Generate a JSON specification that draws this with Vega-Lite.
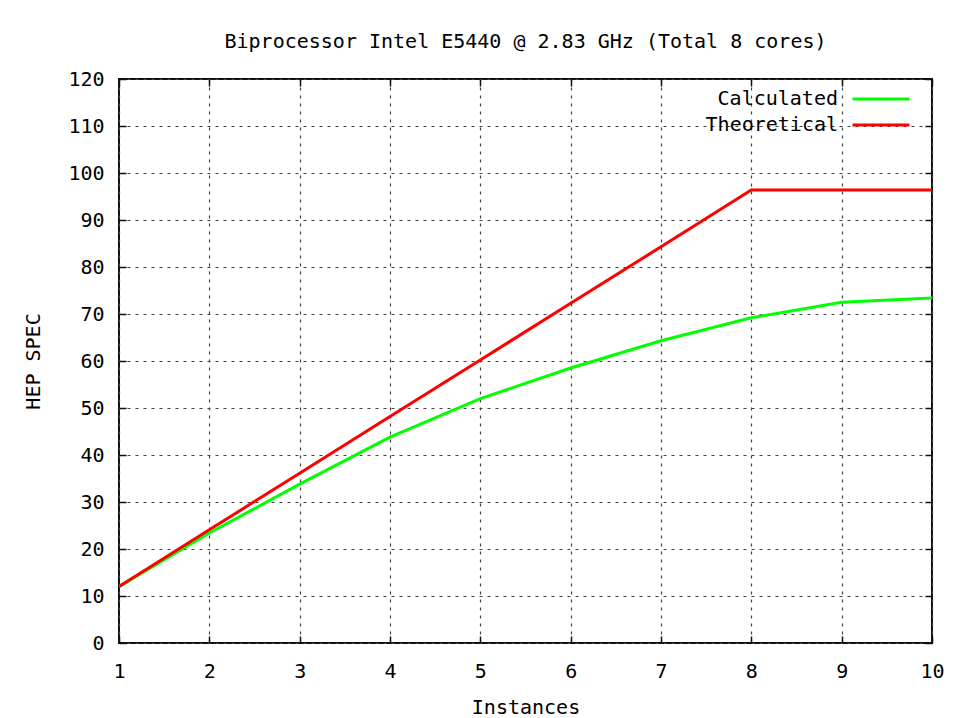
{
  "$schema": "https://vega.github.io/schema/vega-lite/v6.json",
  "width": 813,
  "height": 564,
  "autosize": {"type": "none"},
  "padding": {"left": 119, "top": 79, "right": 22, "bottom": 75},
  "background": "white",
  "title": {
    "text": "Biprocessor Intel E5440 @ 2.83 GHz (Total 8 cores)",
    "font": "DejaVu Sans Mono",
    "fontSize": 20,
    "fontWeight": "normal",
    "color": "#000",
    "anchor": "middle",
    "offset": 17
  },
  "config": {
    "view": {"stroke": "#111", "strokeWidth": 2},
    "axis": {
      "labelFont": "DejaVu Sans Mono",
      "labelFontSize": 20,
      "labelColor": "#000",
      "titleFont": "DejaVu Sans Mono",
      "titleFontSize": 20,
      "titleFontWeight": "normal",
      "titleColor": "#000",
      "domain": false,
      "tickColor": "#111",
      "tickWidth": 1.5,
      "tickSize": -7,
      "gridColor": "#444",
      "gridDash": [3, 5],
      "gridWidth": 1.2
    }
  },
  "data": {
    "values": [
      {"x": 1, "series": "Calculated", "y": 12},
      {"x": 2, "series": "Calculated", "y": 23.4},
      {"x": 3, "series": "Calculated", "y": 33.8},
      {"x": 4, "series": "Calculated", "y": 43.8},
      {"x": 5, "series": "Calculated", "y": 52},
      {"x": 6, "series": "Calculated", "y": 58.5},
      {"x": 7, "series": "Calculated", "y": 64.3},
      {"x": 8, "series": "Calculated", "y": 69.2},
      {"x": 9, "series": "Calculated", "y": 72.5},
      {"x": 10, "series": "Calculated", "y": 73.4},
      {"x": 1, "series": "Theoretical", "y": 12},
      {"x": 2, "series": "Theoretical", "y": 24.1},
      {"x": 3, "series": "Theoretical", "y": 36.1},
      {"x": 4, "series": "Theoretical", "y": 48.2},
      {"x": 5, "series": "Theoretical", "y": 60.2},
      {"x": 6, "series": "Theoretical", "y": 72.3},
      {"x": 7, "series": "Theoretical", "y": 84.3},
      {"x": 8, "series": "Theoretical", "y": 96.4},
      {"x": 9, "series": "Theoretical", "y": 96.4},
      {"x": 10, "series": "Theoretical", "y": 96.4}
    ]
  },
  "layer": [
    {
      "mark": {"type": "line", "strokeWidth": 3, "clip": true},
      "encoding": {
        "x": {
          "field": "x", "type": "quantitative",
          "scale": {"domain": [1, 10], "nice": false, "zero": false},
          "axis": {"orient": "bottom", "title": "Instances", "values": [1,2,3,4,5,6,7,8,9,10], "labelFlush": false, "labelPadding": 25, "titlePadding": 16}
        },
        "y": {
          "field": "y", "type": "quantitative",
          "scale": {"domain": [0, 120], "nice": false},
          "axis": {"orient": "left", "title": "HEP SPEC", "values": [0,10,20,30,40,50,60,70,80,90,100,110,120], "labelFlush": false, "labelPadding": 22, "titlePadding": 24}
        },
        "color": {
          "field": "series", "type": "nominal",
          "scale": {"domain": ["Calculated", "Theoretical"], "range": ["#00ff00", "#ff0000"]},
          "legend": {
            "title": null,
            "orient": "none",
            "legendX": 751,
            "legendY": 9,
            "padding": 0,
            "symbolType": "M-3,0H3",
            "symbolStrokeWidth": 3,
            "symbolSize": 361,
            "labelFont": "DejaVu Sans Mono",
            "labelFontSize": 20,
            "labelColor": "#000",
            "labelAlign": "right",
            "labelOffset": -54,
            "rowPadding": 5
          }
        }
      }
    },
    {
      "mark": {"type": "point", "opacity": 0},
      "encoding": {
        "x": {
          "field": "x", "type": "quantitative",
          "axis": {"orient": "top", "title": null, "labels": false, "grid": false, "values": [1,2,3,4,5,6,7,8,9,10]}
        },
        "y": {
          "field": "y", "type": "quantitative",
          "axis": {"orient": "right", "title": null, "labels": false, "grid": false, "values": [0,10,20,30,40,50,60,70,80,90,100,110,120]}
        }
      }
    }
  ],
  "resolve": {"axis": {"x": "independent", "y": "independent"}}
}
